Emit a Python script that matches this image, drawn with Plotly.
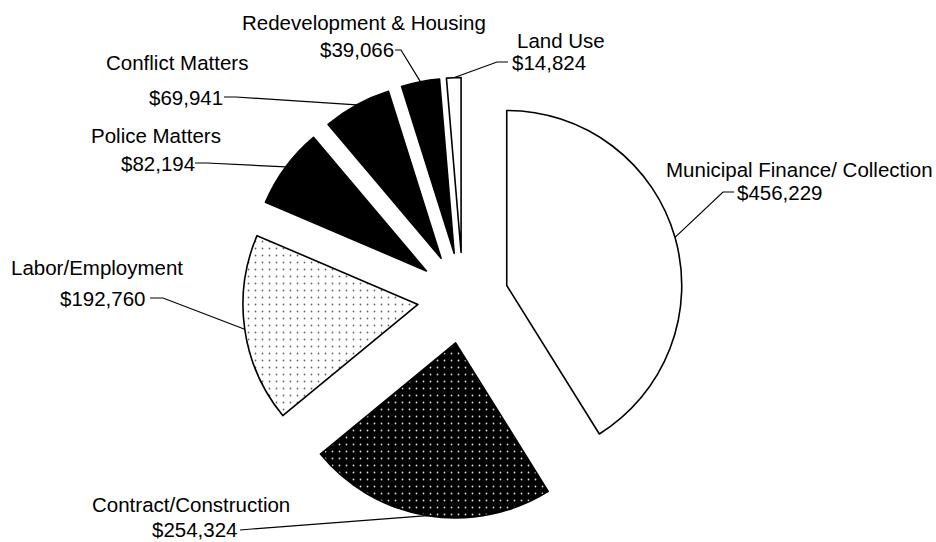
import plotly.graph_objects as go
import numpy as np

# data
categories = ["Municipal Finance/ Collection", "Contract/Construction", "Labor/Employment",
              "Police Matters", "Conflict Matters", "Redevelopment & Housing", "Land Use"]
amounts = [456229, 254324, 192760, 82194, 69941, 39066, 14824]

# slice look
fill_colors = ["white", "black", "white", "black", "black", "black", "white"]
pattern_shapes = ["", ".", ".", "", "", "", ""]
pattern_fg = ["black", "#dddddd", "#666666", "black", "black", "black", "black"]

W, H = 936, 542
CX, CY = 463, 298      # pie centre in px
R = 175                # slice radius in px
PULL = 0.26

# label layout in px: name centre, value centre, leader line start and knee
name_pos = [(799, 169), (191, 504), (97, 267), (156, 136), (177, 62), (364, 23), (561, 40)]
value_pos = [(780, 192), (195, 529), (103, 298), (158, 163), (186, 97), (357, 50), (549, 62)]
line_start = [(734, 192), (240, 530), (150, 298), (195, 163), (224, 97), (395, 50), (508, 62)]
line_knee = [(723, 192), (252, 529), (163, 298), (207, 163), (236, 97), (401, 50), (497, 62)]


def px2paper(x, y):
    return x / W, 1 - y / H


half = R * (1 + PULL)
fig = go.Figure(go.Pie(
    labels=categories, values=amounts, sort=False, direction="clockwise", rotation=0,
    pull=PULL, textinfo="none", showlegend=False, hoverinfo="label+value",
    marker=dict(
        colors=fill_colors,
        line=dict(color="black", width=1.6),
        pattern=dict(shape=pattern_shapes, fgcolor=pattern_fg, bgcolor=fill_colors,
                     size=7, solidity=0.05),
    ),
    domain=dict(x=[(CX - half - 20) / W, (CX + half + 20) / W],
                y=[1 - (CY + half) / H, 1 - (CY - half) / H]),
))

# leader lines end on the outer arc at each slice's bisector
frac = np.array(amounts) / sum(amounts)
mids = np.radians((np.cumsum(frac) - frac / 2) * 360)
arc_x = CX + (1 + PULL) * R * np.sin(mids)
arc_y = CY - (1 + PULL) * R * np.cos(mids)

font = dict(family="Liberation Sans, Arial, sans-serif", size=20.5, color="black")
for i, name in enumerate(categories):
    nx, ny = px2paper(*name_pos[i])
    vx, vy = px2paper(*value_pos[i])
    fig.add_annotation(x=nx, y=ny, xref="paper", yref="paper", text=name,
                       showarrow=False, font=font, xanchor="center", yanchor="middle")
    fig.add_annotation(x=vx, y=vy, xref="paper", yref="paper", text=f"${amounts[i]:,}",
                       showarrow=False, font=font, xanchor="center", yanchor="middle")
    pts = [px2paper(*line_start[i]), px2paper(*line_knee[i]), px2paper(arc_x[i], arc_y[i])]
    path = "M " + " L ".join(f"{x:.5f},{y:.5f}" for x, y in pts)
    fig.add_shape(type="path", path=path, xref="paper", yref="paper",
                  line=dict(color="black", width=1.2))

fig.update_layout(width=W, height=H, margin=dict(l=0, r=0, t=0, b=0),
                  paper_bgcolor="white", plot_bgcolor="white")
# page has a default 8px body margin; drop it so the figure fills the window
fig.write_html("out.html", config={"displayModeBar": False},
               post_script="document.body.style.margin='0';")
